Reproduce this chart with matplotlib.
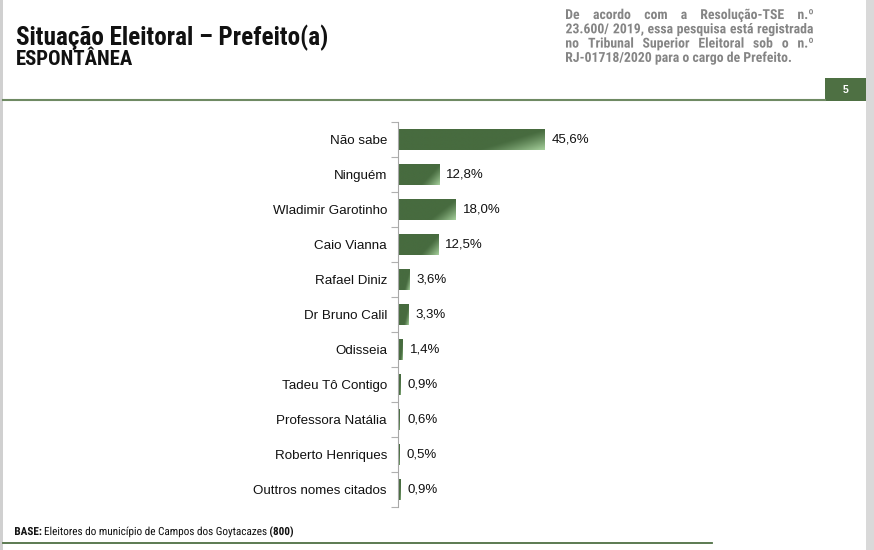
import matplotlib
matplotlib.use("Agg")
import matplotlib.pyplot as plt
import numpy as np
from matplotlib.colors import to_rgb
from matplotlib.patches import Rectangle, PathPatch
from matplotlib.textpath import TextPath
from matplotlib.font_manager import FontProperties
from matplotlib.transforms import Affine2D

# chart data
categories = ["Não sabe", "Ninguém", "Wladimir Garotinho", "Caio Vianna",
              "Rafael Diniz", "Dr Bruno Calil", "Odisseia", "Tadeu Tô Contigo",
              "Professora Natália", "Roberto Henriques", "Outtros nomes citados"]
values = [45.6, 12.8, 18.0, 12.5, 3.6, 3.3, 1.4, 0.9, 0.6, 0.5, 0.9]
value_labels = ["45,6%", "12,8%", "18,0%", "12,5%", "3,6%", "3,3%",
                "1,4%", "0,9%", "0,6%", "0,5%", "0,9%"]

title = "Situação Eleitoral – Prefeito(a)"
subtitle = "ESPONTÂNEA"
note_lines = ["De acordo com a Resolução-TSE n.º",
              "23.600/ 2019, essa pesquisa está registrada",
              "no Tribunal Superior Eleitoral sob o n.º",
              "RJ-01718/2020 para o cargo de Prefeito."]
footer_parts = [("BASE:", "bold"),
                ("Eleitores do município de Campos dos Goytacazes", "normal"),
                ("(800)", "bold")]
page_number = "5"

plt.rcParams['font.family'] = ['Liberation Sans', 'DejaVu Sans']
NARROW = ['Roboto Condensed', 'Liberation Sans']

W, H = 874, 550
fig = plt.figure(figsize=(W / 100, H / 100), dpi=100)
fig.patch.set_facecolor("white")

GREEN = "#4e7043"
DARK = np.array(to_rgb("#476b3f"))
LIGHT = np.array(to_rgb("#a6d09c"))


def px(x, y):
    # pixel (from top-left) -> figure fraction
    return x / W, 1 - y / H


def word_path(s, size, weight):
    fp = FontProperties(family=NARROW, weight=weight)
    return TextPath((0, 0), s, size=size, prop=fp)


def put_path(path, x, ybase, color):
    # x = left ink edge, ybase = baseline (pixels from top)
    ext = path.get_extents()
    tr = Affine2D().translate(x - ext.x0, H - ybase)
    fig.add_artist(PathPatch(path, transform=tr, facecolor=color,
                             edgecolor="none", lw=0))
    return ext.width


# frame details: grey edges, header line, page box, footer line
fig.add_artist(Rectangle(px(866, H), 8 / W, 1, transform=fig.transFigure,
                         facecolor="#d9d9d9", edgecolor="none"))
fig.add_artist(Rectangle(px(0, H), 2.5 / W, 1, transform=fig.transFigure,
                         facecolor="#d0d0d0", edgecolor="none"))
fig.add_artist(plt.Line2D([3 / W, 825 / W], [1 - 100 / H] * 2,
                          transform=fig.transFigure, color="#6f8a63", lw=1.5))
fig.add_artist(Rectangle(px(825, 101), 41 / W, 23 / H, transform=fig.transFigure,
                         facecolor=GREEN, edgecolor="none"))
fig.text(*px(846, 90), page_number, color="white", fontsize=7.5,
         fontweight="bold", ha="center", va="center")
fig.add_artist(plt.Line2D([3 / W, 712 / W], [1 - 543 / H] * 2,
                          transform=fig.transFigure, color=GREEN, lw=1.3))

fig.canvas.draw()
renderer = fig.canvas.get_renderer()

# titles, scaled to the reference width
t_title = fig.text(*px(16, 45), title, fontsize=15, fontweight="bold",
                   ha="left", va="baseline", color="#111111", family=NARROW)
w = t_title.get_window_extent(renderer).width
t_title.set_fontsize(15 * 312 / w)
t_sub = fig.text(*px(16, 65), subtitle, fontsize=11, fontweight="bold",
                 ha="left", va="baseline", color="#111111", family=NARROW)
w = t_sub.get_window_extent(renderer).width
t_sub.set_fontsize(11 * 117 / w)

# justified note at the top right (words drawn as paths, no pixel snapping)
x0, x1 = 566, 813
probe = word_path(note_lines[-1], 12, "bold")
note_size = 12 * 225 / probe.get_extents().width
NOTE_GREY = "#858585"
for i, line in enumerate(note_lines):
    yb = 19 + i * 14.3
    if i == len(note_lines) - 1:
        put_path(word_path(line, note_size, "bold"), x0, yb, NOTE_GREY)
        continue
    paths = [word_path(w, note_size, "bold") for w in line.split()]
    widths = [p.get_extents().width for p in paths]
    gap = (x1 - x0 - sum(widths)) / (len(paths) - 1)
    xpos = x0
    for p, wd in zip(paths, widths):
        put_path(p, xpos, yb, NOTE_GREY)
        xpos += wd + gap

# footer: bold / regular / bold pieces, scaled to span 15..293 px
foot_probe = [word_path(s, 10, wt) for s, wt in footer_parts]
ink = sum(p.get_extents().width for p in foot_probe)
foot_size = 10 * (293 - 15 - 3.5 * (len(footer_parts) - 1)) / ink
xpos = 15
for s, wt in footer_parts:
    xpos += put_path(word_path(s, foot_size, wt), xpos, 535, "#111111") + 3.5

# bar chart
ax = fig.add_axes([398 / W, (H - 507) / H, 322 / W, 385 / H])
ypos = np.arange(len(categories))
bars = ax.barh(ypos, values, height=0.6, color=DARK, edgecolor="none")

# diagonal gradient inside every bar
nu, nv = 160, 30
u = np.linspace(0, 1, nu)[None, :]
v = np.linspace(0, 1, nv)[:, None]
t = np.clip(((u + 0.45 * v) - 1.0) / 0.45, 0, 1) ** 1.2
grad = DARK[None, None, :] + (LIGHT - DARK)[None, None, :] * t[:, :, None]
for bar, y, val in zip(bars, ypos, values):
    im = ax.imshow(grad, extent=(0, val, y + 0.3, y - 0.3), aspect="auto",
                   interpolation="bilinear", zorder=2)
    im.set_clip_path(bar)

for y, val, lab in zip(ypos, values, value_labels):
    ax.text(val + 2.2, y, lab, va="center", ha="left", fontsize=9.5, color="#111111")

ax.set_xlim(0, 100)
ax.set_ylim(len(categories) - 0.5, -0.5)
ax.set_yticks(ypos)
ax.set_yticklabels(categories, fontsize=9.6, color="#111111")
ax.set_yticks(np.arange(len(categories) + 1) - 0.5, minor=True)
ax.tick_params(axis="y", which="major", length=0, pad=8)
ax.tick_params(axis="y", which="minor", length=5, color="#b0b0b0", width=0.8)
ax.set_xticks([])
for side in ["top", "right", "bottom"]:
    ax.spines[side].set_visible(False)
ax.spines["left"].set_color("#a8a8a8")
ax.spines["left"].set_linewidth(0.8)
ax.set_facecolor("none")

fig.savefig("out.png", dpi=100)
